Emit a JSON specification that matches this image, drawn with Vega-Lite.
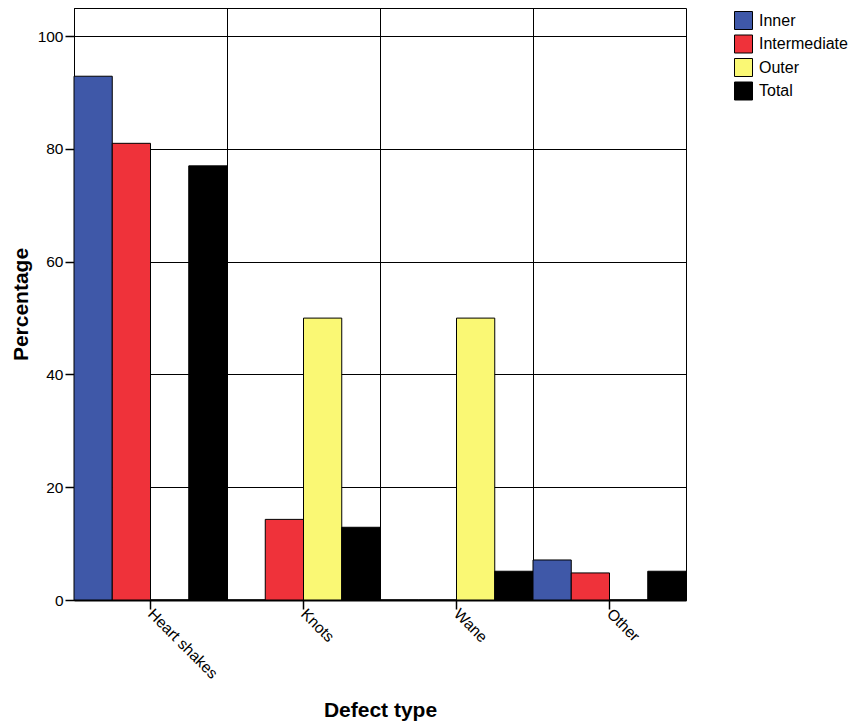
{
  "$schema": "https://vega.github.io/schema/vega-lite/v6.json",
  "width": 612,
  "height": 592,
  "autosize": "none",
  "padding": {"left": 74, "top": 8, "right": 162, "bottom": 124},
  "config": {
    "font": "Liberation Sans",
    "view": {"stroke": "black", "strokeWidth": 1},
    "axis": {"labelColor": "black", "titleColor": "black", "labelFontSize": 15.5, "titleFontSize": 21, "titleFontWeight": "bold", "domainColor": "black", "tickColor": "black", "gridColor": "black", "gridOpacity": 1}
  },
  "data": {
    "values": [
      {"defect": "Heart shakes", "zone": "Inner", "pct": 92.9},
      {"defect": "Heart shakes", "zone": "Intermediate", "pct": 81.0},
      {"defect": "Heart shakes", "zone": "Outer", "pct": 0},
      {"defect": "Heart shakes", "zone": "Total", "pct": 77.0},
      {"defect": "Knots", "zone": "Inner", "pct": 0},
      {"defect": "Knots", "zone": "Intermediate", "pct": 14.3},
      {"defect": "Knots", "zone": "Outer", "pct": 50.0},
      {"defect": "Knots", "zone": "Total", "pct": 12.9},
      {"defect": "Wane", "zone": "Inner", "pct": 0},
      {"defect": "Wane", "zone": "Intermediate", "pct": 0},
      {"defect": "Wane", "zone": "Outer", "pct": 50.0},
      {"defect": "Wane", "zone": "Total", "pct": 5.1},
      {"defect": "Other", "zone": "Inner", "pct": 7.1},
      {"defect": "Other", "zone": "Intermediate", "pct": 4.8},
      {"defect": "Other", "zone": "Outer", "pct": 0},
      {"defect": "Other", "zone": "Total", "pct": 5.1}
    ]
  },
  "layer": [
    {
      "mark": {"type": "bar", "stroke": "black", "strokeWidth": 1},
      "encoding": {
        "x": {
          "field": "defect", "type": "nominal",
          "sort": ["Heart shakes", "Knots", "Wane", "Other"],
          "scale": {"paddingInner": 0, "paddingOuter": 0},
          "axis": {"title": "Defect type", "labelAngle": 45, "labelAlign": "left", "labelBaseline": "middle", "labelPadding": 2, "tickSize": 9, "tickWidth": 1.5, "domainWidth": 2, "grid": false, "titleY": 99, "titleBaseline": "top"}
        },
        "xOffset": {"field": "zone", "type": "nominal", "sort": ["Inner", "Intermediate", "Outer", "Total"], "scale": {"paddingInner": 0, "paddingOuter": 0}},
        "y": {
          "field": "pct", "type": "quantitative",
          "scale": {"domain": [0, 105], "nice": false},
          "axis": {"title": "Percentage", "values": [0, 20, 40, 60, 80, 100], "tickSize": 9, "tickWidth": 1.5, "labelPadding": 2, "domainWidth": 1, "grid": true, "gridWidth": 1, "titleX": -53, "titleY": 296, "titleAlign": "center", "titleBaseline": "middle"}
        },
        "color": {
          "field": "zone", "type": "nominal",
          "sort": ["Inner", "Intermediate", "Outer", "Total"],
          "scale": {"domain": ["Inner", "Intermediate", "Outer", "Total"], "range": ["#3F58A8", "#EF323A", "#FAF874", "#000000"]},
          "legend": {"title": null, "orient": "none", "legendX": 660, "legendY": 3, "symbolType": "square", "symbolSize": 324, "symbolStrokeColor": "black", "symbolStrokeWidth": 1, "labelFontSize": 16, "labelColor": "black", "rowPadding": 0.5, "labelOffset": 6}
        }
      }
    },
    {
      "mark": {"type": "bar", "opacity": 0},
      "encoding": {
        "x": {
          "field": "defect", "type": "nominal",
          "sort": ["Heart shakes", "Knots", "Wane", "Other"],
          "axis": {"orient": "top", "title": null, "labels": false, "ticks": false, "domain": false, "grid": true, "gridWidth": 1, "bandPosition": 0}
        },
        "y": {"field": "pct", "type": "quantitative"}
      }
    }
  ],
  "resolve": {"axis": {"x": "independent"}}
}
